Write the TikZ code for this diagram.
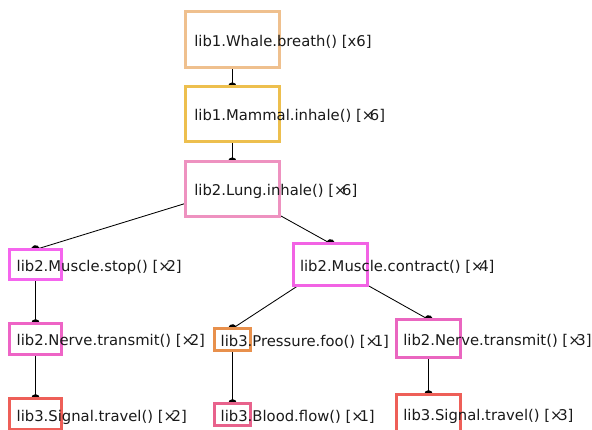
\documentclass[tikz,border=0pt]{standalone}
\usepackage{fontspec}
\setmainfont{DejaVu Sans}
\usetikzlibrary{arrows.meta}
\pgfdeclarelayer{background}
\pgfsetlayers{background,main}
\definecolor{cWhale}{HTML}{EFC08E}
\definecolor{cMammal}{HTML}{EDBF4E}
\definecolor{cLung}{HTML}{EE92C0}
\definecolor{cStop}{HTML}{F565EE}
\definecolor{cNerveA}{HTML}{EE64C6}
\definecolor{cSignal}{HTML}{EE5F58}
\definecolor{cContract}{HTML}{F263E4}
\definecolor{cPressure}{HTML}{E8904C}
\definecolor{cNerveB}{HTML}{EA66C0}
\definecolor{cBlood}{HTML}{E8628C}
\definecolor{cText}{HTML}{1A1A1A}
\newcommand\tms{\makebox[0.55em][l]{×}}
\tikzset{
  bx/.style={draw=#1, line width=3pt, fill=white, rectangle, inner sep=0pt, outer sep=0pt},
  txt/.style={anchor=base west, inner sep=0pt, outer sep=0pt, text=cText,
    font=\fontsize{14.8}{17}\selectfont},
  edge/.style={draw=black, line width=0.85pt, -{Circle[length=8.6pt]}, shorten >=-4.3pt}
}
\begin{document}
\begin{tikzpicture}[x=1pt,y=-1pt]
\useasboundingbox (0,0) rectangle (592,430);
\clip (0,0) rectangle (592,430);
% boxes
\node[bx=cWhale, minimum width=93.4pt, minimum height=55.6pt] (whale) at (232.3,39.5) {};
\node[bx=cMammal, minimum width=93.4pt, minimum height=54.6pt] (mammal) at (232.3,114) {};
\node[bx=cLung, minimum width=93.4pt, minimum height=54.6pt] (lung) at (232.3,189) {};
\node[bx=cStop, minimum width=52pt, minimum height=30pt] (stop) at (35.5,264.5) {};
\node[bx=cNerveA, minimum width=52pt, minimum height=31pt] (nerveA) at (35.5,339) {};
\node[bx=cSignal, minimum width=52pt, minimum height=31pt] (signalA) at (35.5,414) {};
\node[bx=cContract, minimum width=74pt, minimum height=42pt] (contract) at (330.5,264.5) {};
\node[bx=cPressure, minimum width=36pt, minimum height=22pt] (pressure) at (232.5,339.5) {};
\node[bx=cNerveB, minimum width=64pt, minimum height=38pt] (nerveB) at (428.5,338.5) {};
\node[bx=cBlood, minimum width=36pt, minimum height=22pt] (blood) at (232.5,414.5) {};
\node[bx=cSignal, minimum width=64pt, minimum height=38pt] (signalB) at (428.5,413.5) {};
% labels
\node[txt] (whaleT) at (194.3,46.5) {lib1.Whale.breath() [x6]};
\node[txt] (mammalT) at (194.3,121) {lib1.Mammal.inhale() [\tms6]};
\node[txt] (lungT) at (194.3,196) {lib2.Lung.inhale() [\tms6]};
\node[txt] (stopT) at (16.7,271.5) {lib2.Muscle.stop() [\tms2]};
\node[txt] (nerveAT) at (16.7,346) {lib2.Nerve.transmit() [\tms2]};
\node[txt] (signalAT) at (16.7,421) {lib3.Signal.travel() [\tms2]};
\node[txt] (contractT) at (300,271.5) {lib2.Muscle.contract() [\tms4]};
\node[txt] (pressureT) at (220.7,346.5) {lib3.Pressure.foo() [\tms1]};
\node[txt] (nerveBT) at (403.3,345.5) {lib2.Nerve.transmit() [\tms3]};
\node[txt] (bloodT) at (220.7,421.5) {lib3.Blood.flow() [\tms1]};
\node[txt] (signalBT) at (403.3,420.5) {lib3.Signal.travel() [\tms3]};
% edges
\begin{pgfonlayer}{background}
\path[edge] (whale) -- (mammal.north);
\path[edge] (mammal) -- (lung.north);
\path[edge] (lung) -- (stop.north);
\path[edge] (lung) -- (contract.north);
\path[edge] (stop) -- (nerveA.north);
\path[edge] (nerveA) -- (signalA.north);
\path[edge] (contract) -- (pressure.north);
\path[edge] (contract) -- (nerveB.north);
\path[edge] (pressure) -- (blood.north);
\path[edge] (nerveB) -- (signalB.north);
\end{pgfonlayer}
\end{tikzpicture}
\end{document}
